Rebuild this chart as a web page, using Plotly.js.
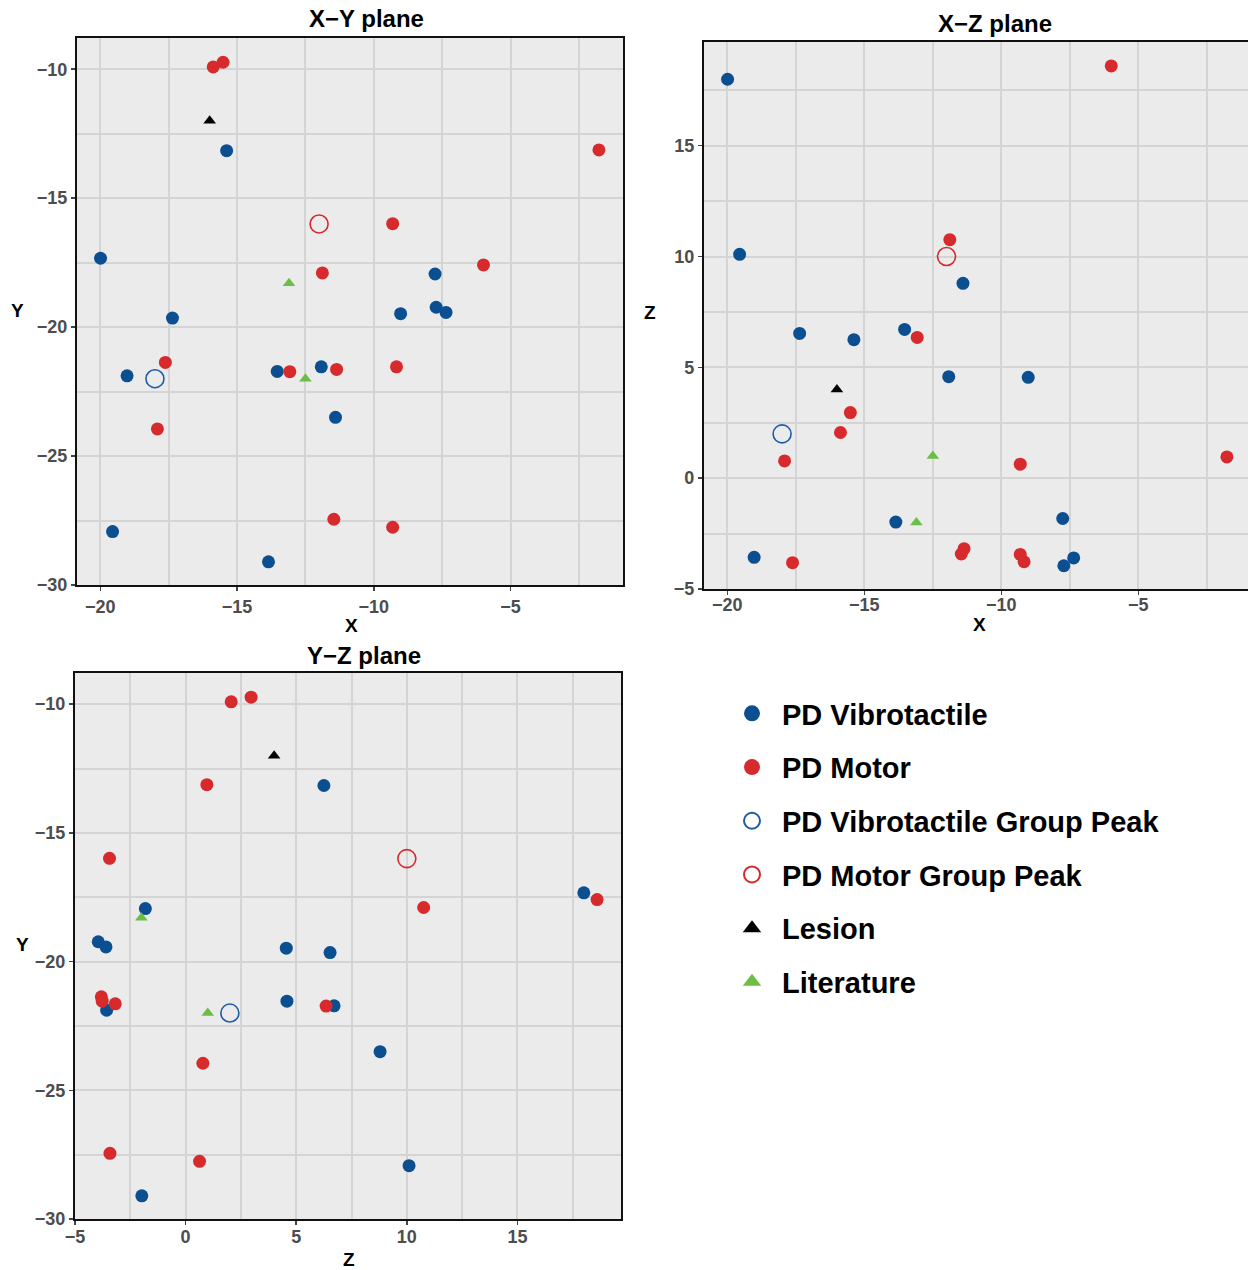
<!DOCTYPE html>
<html><head><meta charset="utf-8">
<script src="https://cdn.plot.ly/plotly-3.0.1.min.js"></script>
<style>html,body{margin:0;padding:0;overflow:hidden;background:#fff}</style>
</head><body>
<div id="chart" style="width:1256px;height:1270px"></div>
<script>
// ---- data (X, Y, Z coordinates read from the three projections) ----
const vibroX = [-15.38, -19.99, -7.76, -17.36, -9.02, -7.72, -7.36, -19.02, -13.53, -11.92, -11.40, -19.55, -13.85];
const vibroY = [-13.16, -17.33, -17.94, -19.65, -19.48, -19.23, -19.43, -21.89, -21.72, -21.54, -23.50, -27.93, -29.10];
const vibroZ = [6.25, 18.00, -1.82, 6.53, 4.55, -3.95, -3.60, -3.57, 6.71, 4.58, 8.79, 10.10, -1.98];

const motorX = [-15.87, -15.51, -1.77, -9.31, -5.99, -11.88, -17.62, -13.07, -11.36, -9.17, -17.91, -11.46, -9.31];
const motorY = [-9.91, -9.73, -13.13, -15.99, -17.59, -17.90, -21.37, -21.73, -21.64, -21.54, -23.95, -27.45, -27.76];
const motorZ = [2.06, 2.96, 0.96, -3.44, 18.60, 10.76, -3.81, 6.35, -3.18, -3.77, 0.78, -3.42, 0.63];

const vibroPeakX = [-18.0], vibroPeakY = [-22.0], vibroPeakZ = [2.0];
const motorPeakX = [-12.0], motorPeakY = [-16.0], motorPeakZ = [10.0];
const lesionX = [-16.0], lesionY = [-12.0], lesionZ = [4.0];
const litX = [-13.1, -12.5], litY = [-18.3, -22.0], litZ = [-2.0, 1.0];

const seriesNames = ['PD Vibrotactile', 'PD Motor', 'PD Vibrotactile Group Peak', 'PD Motor Group Peak', 'Lesion', 'Literature'];
const planeTitles = ['X\u2212Y plane', 'X\u2212Z plane', 'Y\u2212Z plane'];
const xTicks = [-20, -15, -10, -5];
const yTicks = [-30, -25, -20, -15, -10];
const zTicks = [-5, 0, 5, 10, 15];

// ---- styling ----
const W = 1256, H = 1270;
const FONT = 'Liberation Sans, Arial, Helvetica, sans-serif';
const BLUE = '#0B4F91', RED = '#D62A2C', GREEN = '#6CBE45', PEAKBLUE = '#1C5DA3';
const markers = [
  {symbol: 'circle', size: 13, color: BLUE},
  {symbol: 'circle', size: 13, color: RED},
  {symbol: 'circle-open', size: 18, color: PEAKBLUE, line: {width: 1.6, color: PEAKBLUE}},
  {symbol: 'circle-open', size: 18, color: RED, line: {width: 1.6, color: RED}},
  {symbol: 'triangle-up', size: 11, color: '#000000'},
  {symbol: 'triangle-up', size: 11, color: GREEN}
];
// larger symbols used only for the legend key
const legendMarkers = [
  {symbol: 'circle', size: 16, color: BLUE},
  {symbol: 'circle', size: 16, color: RED},
  {symbol: 'circle-open', size: 16, color: PEAKBLUE, line: {width: 2, color: PEAKBLUE}},
  {symbol: 'circle-open', size: 16, color: RED, line: {width: 2, color: RED}},
  {symbol: 'triangle-up', size: 16, color: '#000000'},
  {symbol: 'triangle-up', size: 16, color: GREEN}
];
const sets = [
  [vibroX, vibroY, vibroZ], [motorX, motorY, motorZ],
  [vibroPeakX, vibroPeakY, vibroPeakZ], [motorPeakX, motorPeakY, motorPeakZ],
  [lesionX, lesionY, lesionZ], [litX, litY, litZ]
];

const traces = [];
sets.forEach((s, i) => {
  const [X, Y, Z] = s;
  const base = {type: 'scatter', mode: 'markers', name: seriesNames[i], legendgroup: 'g' + i,
                marker: markers[i], hoverinfo: 'x+y', showlegend: false};
  traces.push(Object.assign({}, base, {x: X, y: Y, xaxis: 'x', yaxis: 'y'}));
  traces.push(Object.assign({}, base, {x: X, y: Z, xaxis: 'x2', yaxis: 'y2'}));
  traces.push(Object.assign({}, base, {x: Z, y: Y, xaxis: 'x3', yaxis: 'y3'}));
  // legend-only key entry (no visible data)
  traces.push({type: 'scatter', mode: 'markers', name: seriesNames[i], legendgroup: 'g' + i,
               x: [null], y: [null], xaxis: 'x', yaxis: 'y', marker: legendMarkers[i],
               showlegend: true, hoverinfo: 'skip'});
});

const px = v => v / W, py = v => 1 - v / H;
const GRID = '#d4d4d4';
function ax(domain, range, ticks, anchor, standoff) {
  return {
    anchor: anchor,
    domain: domain, range: range, tickvals: ticks, ticktext: ticks.map(t => t < 0 ? '\u2212' + (-t) : String(t)),
    showgrid: true, gridcolor: GRID, gridwidth: 2, zeroline: false,
    minor: {dtick: 2.5, tick0: 0, showgrid: true, gridcolor: GRID, gridwidth: 2, ticks: ''},
    showline: true, linecolor: '#111', linewidth: 2.2, mirror: true,
    ticks: 'outside', ticklen: 4, tickwidth: 1.5, tickcolor: '#444',
    ticklabelstandoff: standoff || 0,
    tickfont: {family: FONT, size: 18, color: '#4d4d4d', weight: 'bold'},
    fixedrange: true
  };
}
const XR = [-20.85, -0.89], YR = [-30, -8.79], ZR = [-5, 19.68];

const ann = (text, x, y, size) => ({text: text, xref: 'paper', yref: 'paper', x: px(x), y: py(y),
  xanchor: 'center', yanchor: 'middle', showarrow: false,
  font: {family: FONT, size: size, color: '#000', weight: 'bold'}});

const layout = {
  width: W, height: H, margin: {l: 0, r: 0, t: 0, b: 0},
  paper_bgcolor: '#ffffff', plot_bgcolor: '#EBEBEC',
  xaxis: ax([px(77), px(623)], XR, xTicks, 'y'), yaxis: ax([py(585), py(38)], YR, yTicks, 'x'),
  xaxis2: ax([px(704), px(1251)], XR, xTicks, 'y2', -6), yaxis2: ax([py(589), py(42)], ZR, zTicks, 'x2'),
  xaxis3: ax([px(75), px(621)], ZR, zTicks, 'y3', -4), yaxis3: ax([py(1219), py(673)], YR, yTicks, 'x3'),
  showlegend: true,
  legend: {x: px(722), y: py(688), xanchor: 'left', yanchor: 'top', bgcolor: 'rgba(0,0,0,0)',
           font: {family: FONT, size: 29, color: '#000', weight: 'bold'},
           itemwidth: 50, itemsizing: 'trace', tracegroupgap: 13, traceorder: 'grouped'},
  annotations: [
    ann(planeTitles[0], 366, 19, 24), ann(planeTitles[1], 995, 23, 24), ann(planeTitles[2], 364, 655, 24),
    ann('X', 351, 625, 19), ann('Y', 17, 310, 19),
    ann('X', 979, 624, 19), ann('Z', 650, 312, 19),
    ann('Z', 349, 1259, 19), ann('Y', 22, 944, 19)
  ]
};

Plotly.newPlot('chart', traces, layout, {staticPlot: true, displayModeBar: false});
</script>
</body></html>
